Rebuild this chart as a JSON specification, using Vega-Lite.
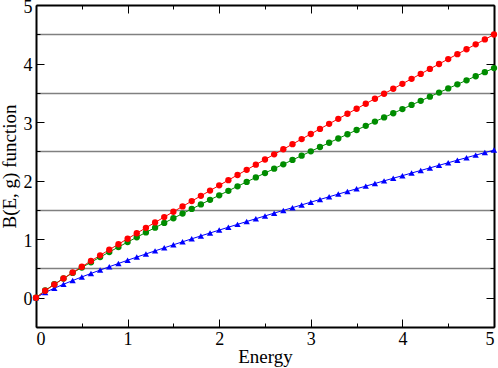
{
  "$schema": "https://vega.github.io/schema/vega-lite/v6.json",
  "width": 458,
  "height": 322,
  "autosize": "none",
  "padding": {"left": 36, "right": 4, "top": 5, "bottom": 41},
  "background": "white",
  "config": {
    "view": {"stroke": null},
    "axis": {"labelFont": "Liberation Serif", "titleFont": "Liberation Serif", "labelFontSize": 18, "titleFontSize": 19, "titleFontWeight": "normal", "labelColor": "black", "titleColor": "black", "domainColor": "black", "domainWidth": 2, "tickColor": "black", "tickWidth": 1, "labelOverlap": false}
  },
  "datasets": {
    "curves": [
      {"E":0.0,"red":0.0,"green":0.0,"blue":0.0},
      {"E":0.1,"red":0.1187,"green":0.125,"blue":0.09},
      {"E":0.2,"red":0.226,"green":0.2301,"blue":0.1624},
      {"E":0.3,"red":0.3294,"green":0.3289,"blue":0.2295},
      {"E":0.4,"red":0.4303,"green":0.4238,"blue":0.2932},
      {"E":0.5,"red":0.5294,"green":0.5159,"blue":0.3546},
      {"E":0.6,"red":0.6271,"green":0.6057,"blue":0.4141},
      {"E":0.7,"red":0.7237,"green":0.6939,"blue":0.4723},
      {"E":0.8,"red":0.8193,"green":0.7804,"blue":0.5292},
      {"E":0.9,"red":0.914,"green":0.8658,"blue":0.585},
      {"E":1.0,"red":1.008,"green":0.95,"blue":0.64},
      {"E":1.1,"red":1.1013,"green":1.0332,"blue":0.6941},
      {"E":1.2,"red":1.194,"green":1.1155,"blue":0.7476},
      {"E":1.3,"red":1.2862,"green":1.197,"blue":0.8003},
      {"E":1.4,"red":1.3779,"green":1.2778,"blue":0.8525},
      {"E":1.5,"red":1.4691,"green":1.3579,"blue":0.9041},
      {"E":1.6,"red":1.5599,"green":1.4373,"blue":0.9552},
      {"E":1.7,"red":1.6502,"green":1.5162,"blue":1.0058},
      {"E":1.8,"red":1.7402,"green":1.5945,"blue":1.056},
      {"E":1.9,"red":1.8299,"green":1.6723,"blue":1.1058},
      {"E":2.0,"red":1.9192,"green":1.7496,"blue":1.1552},
      {"E":2.1,"red":2.0082,"green":1.8264,"blue":1.2042},
      {"E":2.2,"red":2.0969,"green":1.9028,"blue":1.2529},
      {"E":2.3,"red":2.1853,"green":1.9788,"blue":1.3013},
      {"E":2.4,"red":2.2734,"green":2.0544,"blue":1.3493},
      {"E":2.5,"red":2.3613,"green":2.1297,"blue":1.3971},
      {"E":2.6,"red":2.4489,"green":2.2045,"blue":1.4446},
      {"E":2.7,"red":2.5363,"green":2.2791,"blue":1.4918},
      {"E":2.8,"red":2.6234,"green":2.3532,"blue":1.5387},
      {"E":2.9,"red":2.7104,"green":2.4272,"blue":1.5854},
      {"E":3.0,"red":2.7971,"green":2.5007,"blue":1.6319},
      {"E":3.1,"red":2.8836,"green":2.574,"blue":1.6781},
      {"E":3.2,"red":2.9699,"green":2.647,"blue":1.7241},
      {"E":3.3,"red":3.056,"green":2.7198,"blue":1.7699},
      {"E":3.4,"red":3.142,"green":2.7923,"blue":1.8155},
      {"E":3.5,"red":3.2277,"green":2.8645,"blue":1.8609},
      {"E":3.6,"red":3.3133,"green":2.9365,"blue":1.9061},
      {"E":3.7,"red":3.3988,"green":3.0082,"blue":1.9511},
      {"E":3.8,"red":3.484,"green":3.0797,"blue":1.996},
      {"E":3.9,"red":3.5691,"green":3.151,"blue":2.0406},
      {"E":4.0,"red":3.654,"green":3.2221,"blue":2.0851},
      {"E":4.1,"red":3.7389,"green":3.2929,"blue":2.1295},
      {"E":4.2,"red":3.8235,"green":3.3636,"blue":2.1737},
      {"E":4.3,"red":3.908,"green":3.4341,"blue":2.2177},
      {"E":4.4,"red":3.9924,"green":3.5043,"blue":2.2615},
      {"E":4.5,"red":4.0766,"green":3.5744,"blue":2.3053},
      {"E":4.6,"red":4.1607,"green":3.6443,"blue":2.3488},
      {"E":4.7,"red":4.2446,"green":3.714,"blue":2.3923},
      {"E":4.8,"red":4.3284,"green":3.7835,"blue":2.4356},
      {"E":4.9,"red":4.4121,"green":3.8529,"blue":2.4787},
      {"E":5.0,"red":4.4957,"green":3.9221,"blue":2.5218}
    ]
  },
  "data": {"name": "curves"},
  "transform": [{"fold": ["blue", "green", "red"], "as": ["series", "B"]}],
  "resolve": {"axis": {"x": "independent", "y": "independent"}},
  "layer": [
    {
      "mark": {"type": "line", "strokeWidth": 1},
      "encoding": {
        "x": {"field": "E", "type": "quantitative", "scale": {"domain": [0, 5], "nice": false},
          "axis": {"orient": "bottom", "title": "Energy", "values": [0,0.5,1,1.5,2,2.5,3,3.5,4,4.5,5], "labelExpr": "datum.value % 1 ? '' : '' + datum.value", "tickSize": {"condition": {"test": "datum.value % 1 !== 0", "value": -4}, "value": -8}, "labelPadding": 11, "titlePadding": -5, "labelFontSize": 18, "titleFontSize": 19, "grid": false}},
        "y": {"field": "B", "type": "quantitative", "scale": {"domain": [-0.5, 5], "nice": false, "zero": false},
          "axis": {"orient": "left", "title": "B(E, g) function", "values": [-0.5,0,0.5,1,1.5,2,2.5,3,3.5,4,4.5,5], "labelExpr": "datum.value % 1 ? '' : '' + datum.value", "tickSize": {"condition": {"test": "datum.value % 1 !== 0", "value": -4}, "value": -8}, "labelPadding": 12, "labelOffset": 2, "titlePadding": 4, "labelFontSize": 18, "titleFontSize": 19, "grid": true, "gridColor": "#808080", "gridWidth": 1.5, "gridOpacity": {"condition": {"test": "datum.value % 1 !== 0 && datum.value > 0", "value": 1}, "value": 0}}},
        "color": {"field": "series", "type": "nominal", "scale": {"domain": ["blue", "green", "red"], "range": ["#0000ff", "#008c00", "#ff0000"]}, "legend": null},
        "detail": {"field": "series"}
      }
    },
    {
      "mark": {"type": "point", "filled": true, "size": 40, "opacity": 1},
      "encoding": {
        "x": {"field": "E", "type": "quantitative",
          "axis": {"orient": "top", "title": null, "labels": false, "values": [0,0.5,1,1.5,2,2.5,3,3.5,4,4.5,5], "tickSize": {"condition": {"test": "datum.value % 1 !== 0", "value": -4}, "value": -8}, "grid": false}},
        "y": {"field": "B", "type": "quantitative",
          "axis": {"orient": "right", "title": null, "labels": false, "values": [-0.5,0,0.5,1,1.5,2,2.5,3,3.5,4,4.5,5], "tickSize": {"condition": {"test": "datum.value % 1 !== 0", "value": -4}, "value": -8}, "grid": false}},
        "color": {"field": "series", "type": "nominal", "legend": null},
        "shape": {"field": "series", "type": "nominal", "scale": {"domain": ["blue", "green", "red"], "range": ["triangle-up", "circle", "circle"]}, "legend": null}
      }
    }
  ]
}
